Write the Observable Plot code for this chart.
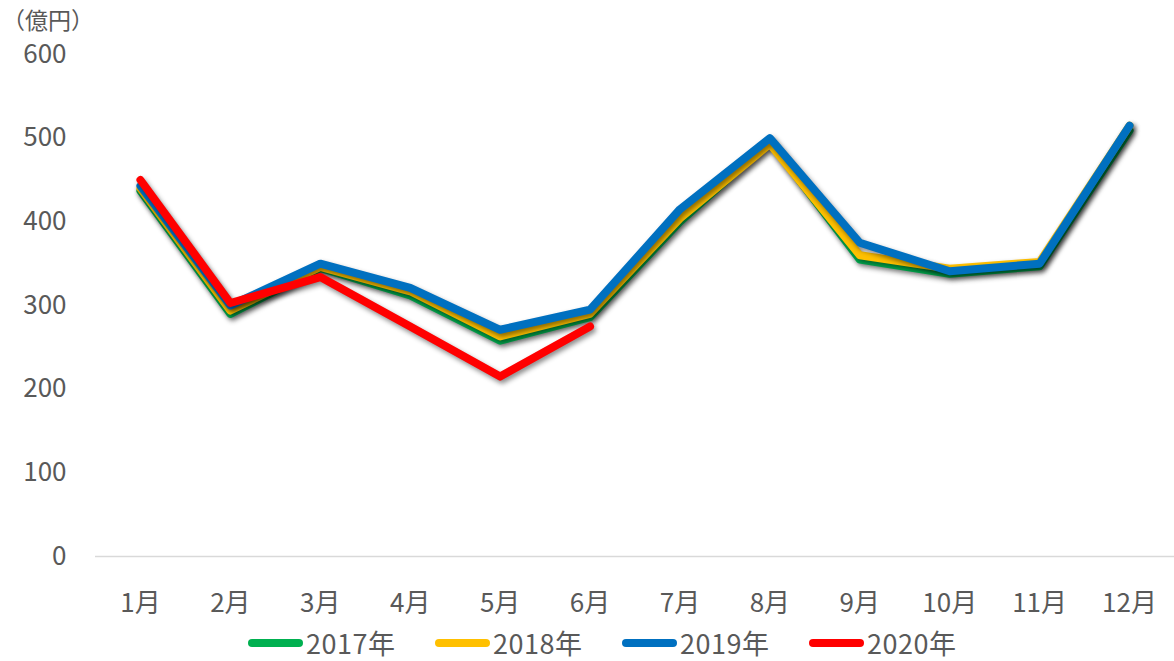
<!DOCTYPE html>
<html>
<head>
<meta charset="utf-8">
<script src="https://cdn.jsdelivr.net/npm/d3@7"></script>
<script src="https://cdn.jsdelivr.net/npm/@observablehq/plot@0.6"></script>
<style>
  body { margin: 0; background: #fff; font-family: "Noto Sans CJK JP", "Noto Sans", sans-serif; }
  #wrap { position: relative; width: 1174px; height: 661px; }
  #unit { position: absolute; left: 2px; top: 2px; font-size: 23px; color: #595959; }
  #chart svg g[aria-label="line"] path { filter: drop-shadow(2px 3px 2.5px rgba(0,0,0,0.45)); }
  #legend { position: absolute; left: 0; top: 629px; width: 1174px; height: 34px; font-size: 27px; color: #595959; line-height: 1; letter-spacing: 0.5px; }
  .item { position: absolute; top: 0; display: flex; align-items: center; }
  .sw { width: 55px; height: 8px; border-radius: 4px; margin-right: 3px; }
</style>
</head>
<body>
<div id="wrap">
  <div id="chart"></div>
  <div id="unit">（億円）</div>
  <div id="legend"></div>
</div>
<script>
const months = ["1月","2月","3月","4月","5月","6月","7月","8月","9月","10月","11月","12月"];
const seriesNames = ["2017年","2018年","2019年","2020年"];
const colors = ["#00B050","#FFC000","#0070C0","#FF0000"];
const v2017 = [437, 290, 345, 312, 258, 286, 400, 496, 355, 338, 347, 509];
const v2018 = [440, 294, 346, 317, 263, 290, 404, 493, 360, 344, 352, 515];
const v2019 = [443, 300, 350, 321, 271, 295, 415, 500, 375, 341, 350, 515];
const v2020 = [450, 303, 334, 275, 215, 275];
const yTicks = [0, 100, 200, 300, 400, 500, 600];

const allSeries = [v2017, v2018, v2019, v2020];
const data = [];
allSeries.forEach((vals, si) => {
  vals.forEach((v, i) => data.push({month: months[i], value: v, series: seriesNames[si]}));
});

const chart = Plot.plot({
  width: 1174,
  height: 625,
  marginLeft: 95,
  marginRight: 0,
  marginTop: 54,
  marginBottom: 69,
  style: { fontFamily: '"Noto Sans CJK JP", "Noto Sans", sans-serif', fontSize: "26px", color: "#595959", background: "#fff" },
  x: { type: "band", domain: months, padding: 0, round: false, label: null },
  y: { domain: [0, 600], label: null },
  color: { domain: seriesNames, range: colors },
  marks: [
    Plot.ruleY([0], { stroke: "#d9d9d9", strokeWidth: 1.5 }),
    Plot.axisX({ tickSize: 0, tickPadding: 37, fontSize: 26, fill: "#595959", label: null }),
    Plot.axisY({ ticks: yTicks, tickSize: 0, tickPadding: 29, fontSize: 26, fill: "#595959", label: null }),
    ...seriesNames.map(s => Plot.line(data.filter(d => d.series === s), {
      x: "month", y: "value", stroke: "series",
      strokeWidth: 8, strokeLinecap: "round", strokeLinejoin: "round"
    }))
  ]
});
document.getElementById("chart").appendChild(chart);

const legend = document.getElementById("legend");
seriesNames.forEach((s, i) => {
  const it = document.createElement("div");
  it.className = "item";
  it.style.left = (248 + i * 187) + "px";
  const sw = document.createElement("div");
  sw.className = "sw";
  sw.style.background = colors[i];
  const tx = document.createElement("span");
  tx.textContent = s;
  it.appendChild(sw); it.appendChild(tx);
  legend.appendChild(it);
});
</script>
</body>
</html>
